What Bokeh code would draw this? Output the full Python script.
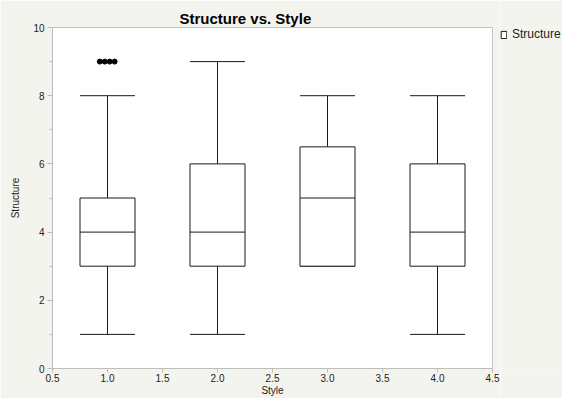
from bokeh.plotting import figure
from bokeh.layouts import row
from bokeh.models import (ColumnDataSource, Legend, LegendItem, PrintfTickFormatter,
                          FixedTicker, Range1d)
from bokeh.embed import file_html
from bokeh.resources import INLINE

# ---- data ----
styles = [1.0, 2.0, 3.0, 4.0]
lower = [1, 1, 3, 1]
q1 = [3, 3, 3, 3]
median = [4, 4, 5, 4]
q3 = [5, 6, 6.5, 6]
upper = [8, 9, 8, 8]
outlier_x = [0.93, 0.975, 1.02, 1.065]
outlier_y = [9, 9, 9, 9]
x_ticks = [0.5, 1.0, 1.5, 2.0, 2.5, 3.0, 3.5, 4.0, 4.5]
y_ticks = [0, 2, 4, 6, 8, 10]
series_name = "Structure"

HALF = 0.25
LINE = "#1a1a1a"
FONT = "Liberation Sans"
BG = "#f4f4ef"

src = ColumnDataSource(dict(
    x=styles,
    left=[s - HALF for s in styles],
    right=[s + HALF for s in styles],
    lower=lower, q1=q1, median=median, q3=q3, upper=upper,
))

p = figure(width=500, height=398, output_backend="svg", toolbar_location=None,
           x_range=Range1d(x_ticks[0], x_ticks[-1]),
           y_range=Range1d(y_ticks[0], y_ticks[-1]),
           min_border_left=52, min_border_right=8, min_border_top=27,
           min_border_bottom=30)

p.border_fill_color = BG
p.background_fill_color = "white"
p.outline_line_color = "#c4c4c4"
p.grid.visible = False

# title
p.title.text = "Structure vs. Style"
p.title.text_font = FONT
p.title.text_font_size = "15px"
p.title.text_font_style = "bold"
p.title.text_color = "black"
p.title.align = "left"
p.title.offset = 127
p.title.standoff = 1

# whiskers
p.segment(x0="x", y0="q3", x1="x", y1="upper", source=src, line_color=LINE, line_width=1)
p.segment(x0="x", y0="q1", x1="x", y1="lower", source=src, line_color=LINE, line_width=1)
# caps
p.segment(x0="left", y0="upper", x1="right", y1="upper", source=src, line_color=LINE, line_width=1)
p.segment(x0="left", y0="lower", x1="right", y1="lower", source=src, line_color=LINE, line_width=1)
# boxes
p.quad(left="left", right="right", bottom="q1", top="q3", source=src,
       fill_color="white", line_color=LINE, line_width=1)
# medians
p.segment(x0="left", y0="median", x1="right", y1="median", source=src, line_color=LINE, line_width=1)
# outliers
p.scatter(outlier_x, outlier_y, size=5, color="black")

# axes
for ax in (p.xaxis[0], p.yaxis[0]):
    ax.axis_line_color = "#bdbdbd"
    ax.major_tick_line_color = "#bdbdbd"
    ax.minor_tick_line_color = "#bdbdbd"
    ax.major_tick_in = 0
    ax.minor_tick_in = 0
    ax.major_label_text_font = FONT
    ax.major_label_text_font_size = "10px"
    ax.major_label_text_color = "#222222"
    ax.axis_label_text_font = FONT
    ax.axis_label_text_font_style = "normal"
    ax.axis_label_text_color = "#222222"

p.xaxis.axis_label = "Style"
p.xaxis.axis_label_text_font_size = "10px"
p.xaxis.ticker = FixedTicker(ticks=x_ticks, minor_ticks=[])
p.xaxis.formatter = PrintfTickFormatter(format="%.1f")
p.xaxis.major_tick_out = 4
p.xaxis.major_label_standoff = 1
p.xaxis.axis_label_standoff = 0

p.yaxis.axis_label = "Structure"
p.yaxis.axis_label_text_font_size = "10px"
p.yaxis.ticker = FixedTicker(ticks=y_ticks, minor_ticks=[t + 1 for t in y_ticks[:-1]])
p.yaxis.formatter = PrintfTickFormatter(format="%d")
p.yaxis.major_tick_out = 5
p.yaxis.minor_tick_out = 3
p.yaxis.major_label_standoff = 3
p.yaxis.axis_label_standoff = 9

# ---- legend panel on the right (its frame shows no marks: its ranges lie away from the data) ----
lg = figure(width=62, height=398, output_backend="svg", toolbar_location=None,
            x_axis_type=None, y_axis_type=None,
            min_border_left=0, min_border_right=0, min_border_top=27, min_border_bottom=30,
            x_range=Range1d(100, 101), y_range=Range1d(100, 101))
lg.border_fill_color = BG
lg.background_fill_color = BG
lg.outline_line_color = None
lg.grid.visible = False
icon = lg.quad(left="left", right="right", bottom="q1", top="q3", source=src,
               fill_color="white", line_color=LINE, line_width=1)

legend = Legend(items=[LegendItem(label=series_name, renderers=[icon])],
                location="top_left", orientation="vertical",
                glyph_width=7, glyph_height=9, label_standoff=5,
                padding=0, margin=0, spacing=0,
                background_fill_alpha=0, border_line_alpha=0,
                label_text_font=FONT, label_text_font_size="12px",
                label_text_color="#222222", label_height=14)
lg.add_layout(legend, "center")

layout = row(p, lg, spacing=0)
open("out.html", "w").write(file_html(layout, INLINE))
